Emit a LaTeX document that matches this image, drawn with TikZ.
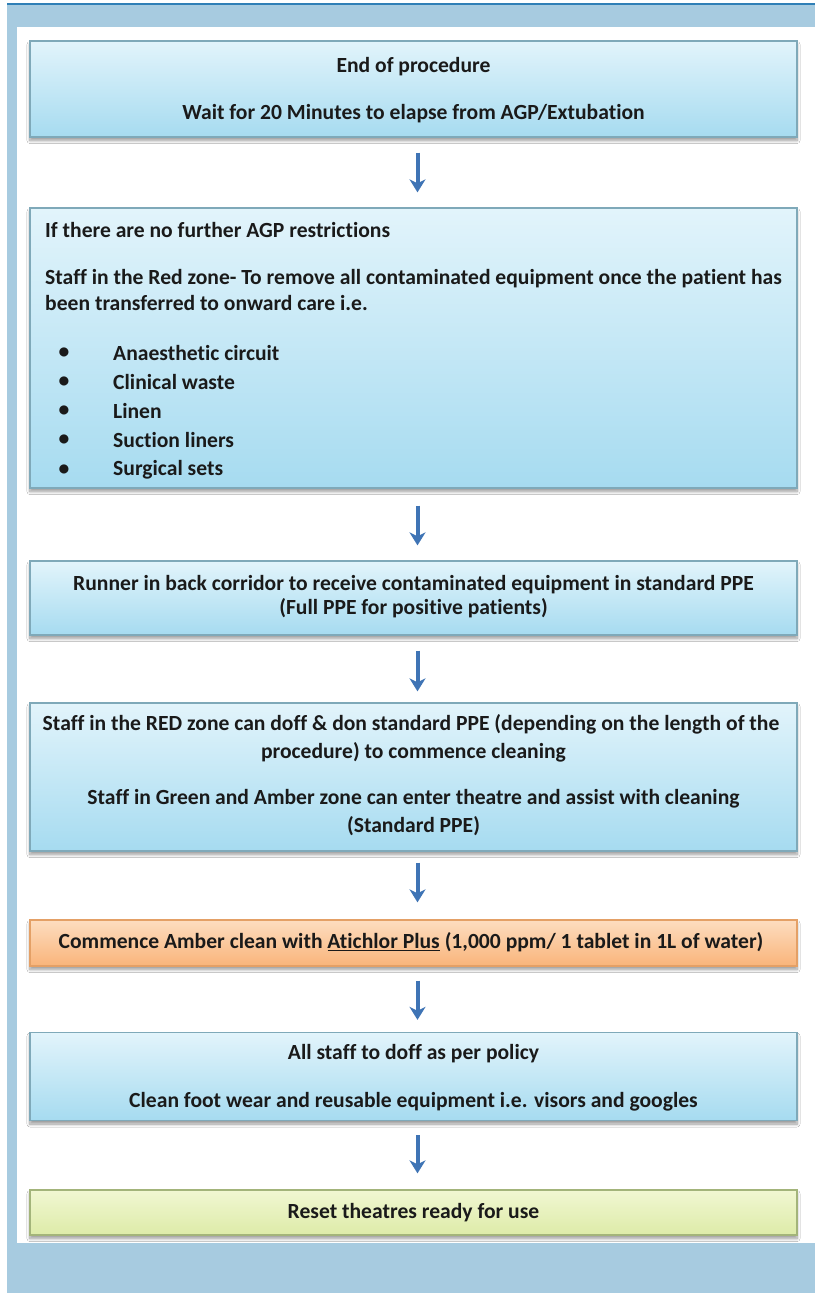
\documentclass[tikz,border=0pt]{standalone}
\usepackage{fontspec}
\setmainfont{Carlito}[Ligatures=NoCommon]
\usetikzlibrary{shadows.blur,arrows.meta}
\definecolor{framebg}{HTML}{A7CBE0}
\definecolor{frameline}{HTML}{2F7FB6}
\definecolor{bluetop}{HTML}{E2F4FB}
\definecolor{bluebot}{HTML}{A6DBF0}
\definecolor{blueedge}{HTML}{7FA9B9}
\definecolor{orangetop}{HTML}{FDDDC0}
\definecolor{orangebot}{HTML}{F9B47A}
\definecolor{orangeedge}{HTML}{E4A066}
\definecolor{greentop}{HTML}{F1F7D2}
\definecolor{greenbot}{HTML}{DDEBA8}
\definecolor{greenedge}{HTML}{A3B47A}
\definecolor{arrowblue}{HTML}{3F74B5}
\definecolor{txt}{HTML}{1A1A1A}
\tikzset{
  boxbase/.style={draw, line width=1.3bp, minimum width=767bp, inner sep=0pt,
    blur shadow={shadow xshift=0bp, shadow yshift=-3.5bp, shadow blur steps=8, shadow blur radius=3bp, shadow opacity=40}},
  bluebox/.style={boxbase, draw=blueedge, top color=bluetop, bottom color=bluebot},
  orangebox/.style={boxbase, draw=orangeedge, top color=orangetop, bottom color=orangebot},
  greenbox/.style={boxbase, draw=greenedge, top color=greentop, bottom color=greenbot},
  line/.style={font=\fontsize{21.6bp}{26bp}\selectfont\bfseries, text=txt, inner sep=0pt},
  lline/.style={line, anchor=west},
  flow/.style={draw=arrowblue, line width=4bp, -{Stealth[length=13bp,width=16bp,inset=4bp]}}
}
\begin{document}
\begin{tikzpicture}[x=1bp,y=-1bp]
\useasboundingbox (0,0) rectangle (815,1293);
\fill[white] (0,0) rectangle (815,1293);
\fill[framebg] (7,5) rectangle (815,1293);
\draw[frameline, line width=2bp] (7,4) -- (815,4);
\fill[white] (17,27) rectangle (815,1243);

% boxes
\node[bluebox, minimum height=96bp] (b1) at (413.5,89) {};
\node[bluebox, minimum height=280bp] (b2) at (413.5,348) {};
\node[bluebox, minimum height=74bp] (b3) at (413.5,598) {};
\node[bluebox, minimum height=148bp] (b4) at (413.5,777) {};
\node[orangebox, minimum height=46bp] (b5) at (413.5,943) {};
\node[bluebox, minimum height=88bp] (b6) at (413.5,1076.5) {};
\node[greenbox, minimum height=45bp] (b7) at (413.5,1212.5) {};

% texts
\node[line] (t11) at (413.5,67) {End of procedure};
\node[line] (t12) at (413.5,114) {Wait for 20 Minutes to elapse from AGP/Extubation};

\node[lline] (t21) at (45,230) {If there are no further AGP restrictions};
\node[lline] (t22) at (45,279) {Staff in the Red zone- To remove all contaminated equipment once the patient has};
\node[lline] (t23) at (45,303) {been transferred to onward care i.e.};
\foreach \y/\t [count=\i] in {353/Anaesthetic circuit,382/Clinical waste,411/Linen,440/Suction liners,470/Surgical sets}{
  \node[line] (bul\i) at (64,\y) {\textbullet};
  \node[lline] (it\i) at (113,\y) {\t};
}

\node[line] (t31) at (413.5,585) {Runner in back corridor to receive contaminated equipment in standard PPE};
\node[line] (t32) at (413.5,608) {(Full PPE for positive patients)};

\node[line] (t41) at (411,724) {Staff in the RED zone can doff \& don standard PPE (depending on the length of the};
\node[line] (t42) at (413.5,752) {procedure) to commence cleaning};
\node[line] (t43) at (413.5,799) {Staff in Green and Amber zone can enter theatre and assist with cleaning};
\node[line] (t44) at (413.5,826) {(Standard PPE)};

\node[line] (t51) at (411,942) {Commence Amber clean with \underline{Atichlor Plus} (1,000 ppm/ 1 tablet in 1L of water)};

\node[line] (t61) at (413.5,1054) {All staff to doff as per policy};
\node[line] (t62) at (413.5,1102) {Clean foot wear and reusable equipment i.e. visors and googles};

\node[line] (t71) at (413.5,1213) {Reset theatres ready for use};

% arrows
\foreach \a/\b/\s/\e in {b1/b2/15/15, b2/b3/17/15, b3/b4/15/11, b4/b5/11/17, b5/b6/14/12, b6/b7/14/16}{
  \draw[flow, shorten <=\s bp, shorten >=\e bp] ([xshift=4bp]\a.south) -- ([xshift=4bp]\b.north);
}
\end{tikzpicture}
\end{document}
